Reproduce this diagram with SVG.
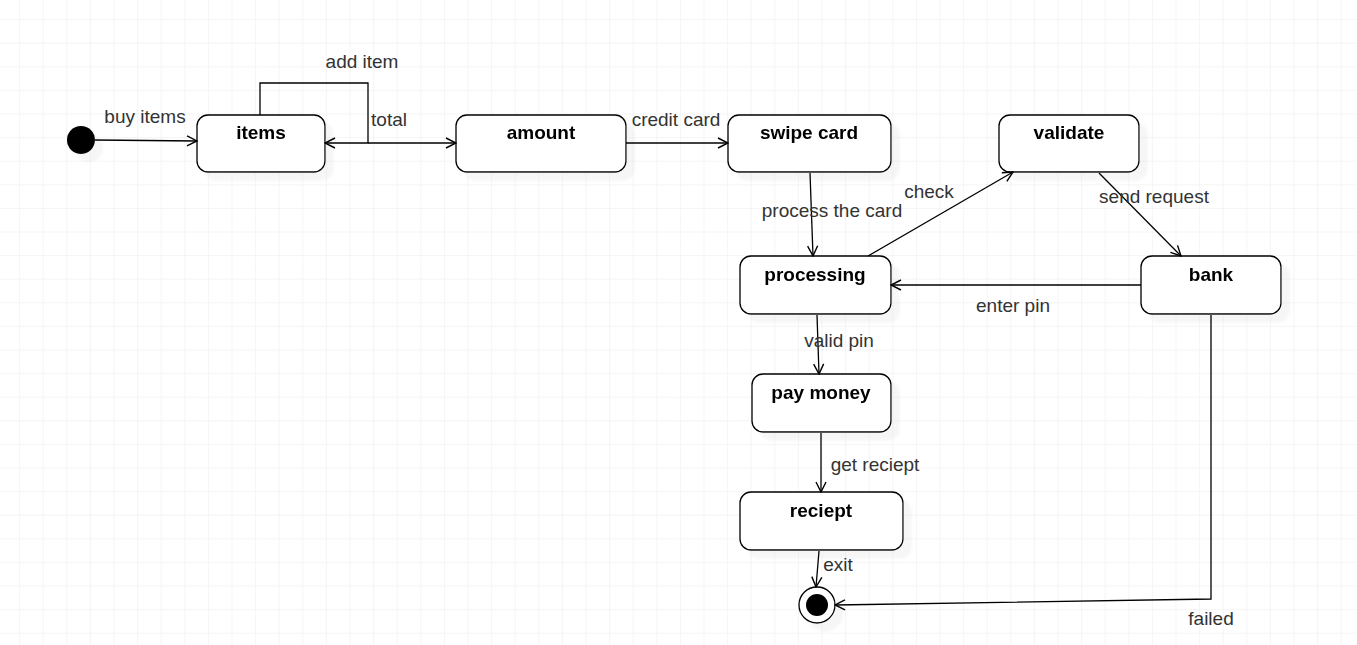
<svg xmlns="http://www.w3.org/2000/svg" width="1357" height="645" viewBox="0 0 1357 645">
<defs>
<pattern id="grid" x="-3.5" y="-3.5" width="23.6" height="23.6" patternUnits="userSpaceOnUse">
<path d="M23.6 0 V23.6 M0 23.6 H23.6" fill="none" stroke="#ebebeb" stroke-width="1"/>
</pattern>
<marker id="arr" viewBox="0 0 12 12" refX="11" refY="6" markerWidth="12" markerHeight="12" markerUnits="userSpaceOnUse" orient="auto">
<path d="M1 1 L11 6 L1 11" fill="none" stroke="#000" stroke-width="1.4"/>
</marker>
<filter id="sh" x="-20%" y="-20%" width="150%" height="150%">
<feOffset dx="8" dy="8" in="SourceAlpha" result="o"/>
<feColorMatrix in="o" type="matrix" values="0 0 0 0 0.5 0 0 0 0 0.5 0 0 0 0 0.5 0 0 0 0.12 0"/>
<feGaussianBlur stdDeviation="1"/>
<feMerge><feMergeNode/><feMergeNode in="SourceGraphic"/></feMerge>
</filter>
</defs>
<style>
.n rect{fill:#fff;stroke:#000;stroke-width:1.3}
.t{font-family:"Liberation Sans",Arial,sans-serif;font-size:19px;font-weight:bold;fill:#000;text-anchor:middle}
.l{font-family:"Liberation Sans",Arial,sans-serif;font-size:19px;fill:#333;text-anchor:middle}
.e path{fill:none;stroke:#000;stroke-width:1.3}
</style>
<rect width="1357" height="645" fill="#fff"/>
<rect width="1357" height="645" fill="url(#grid)"/>

<g id="start" filter="url(#sh)"><circle cx="81" cy="140" r="14" fill="#000"/></g>
<g id="items" class="n" filter="url(#sh)"><rect x="197" y="115" width="128" height="57" rx="11"/><text class="t" x="261" y="139">items</text></g>
<g id="amount" class="n" filter="url(#sh)"><rect x="456" y="115" width="170" height="57" rx="11"/><text class="t" x="541" y="139">amount</text></g>
<g id="swipe" class="n" filter="url(#sh)"><rect x="728" y="115" width="163" height="57" rx="11"/><text class="t" x="809" y="139">swipe card</text></g>
<g id="validate" class="n" filter="url(#sh)"><rect x="999" y="115" width="140" height="57" rx="11"/><text class="t" x="1069" y="139">validate</text></g>
<g id="processing" class="n" filter="url(#sh)"><rect x="740" y="256" width="151" height="58" rx="11"/><text class="t" x="815" y="281">processing</text></g>
<g id="bank" class="n" filter="url(#sh)"><rect x="1141" y="256" width="140" height="58" rx="11"/><text class="t" x="1211" y="281">bank</text></g>
<g id="paymoney" class="n" filter="url(#sh)"><rect x="752" y="374" width="139" height="58" rx="11"/><text class="t" x="821" y="399">pay money</text></g>
<g id="reciept" class="n" filter="url(#sh)"><rect x="740" y="492" width="163" height="58" rx="11"/><text class="t" x="821" y="517">reciept</text></g>
<g id="end" filter="url(#sh)"><circle cx="817" cy="605" r="18" fill="#fff" stroke="#000" stroke-width="1.3"/><circle cx="817" cy="605" r="11" fill="#000"/></g>

<g id="connectors" class="e">
<path d="M95 140 L197 141" marker-end="url(#arr)"/>
<path d="M260 115 V83 H368 V143 H325" marker-end="url(#arr)"/>
<path d="M368 143 H456" marker-end="url(#arr)"/>
<path d="M626 143 H728" marker-end="url(#arr)"/>
<path d="M810 173 L813 256" marker-end="url(#arr)"/>
<path d="M868 256 L1013 172" marker-end="url(#arr)"/>
<path d="M1099 173 L1181 256" marker-end="url(#arr)"/>
<path d="M1141 285 H891" marker-end="url(#arr)"/>
<path d="M817 315 L819 374" marker-end="url(#arr)"/>
<path d="M821 433 V492" marker-end="url(#arr)"/>
<path d="M819 551 L816 587" marker-end="url(#arr)"/>
<path d="M1211 315 V599 L835 605" marker-end="url(#arr)"/>
</g>
<g id="labels">
<text class="l" x="145" y="123">buy items</text>
<text class="l" x="362" y="68">add item</text>
<text class="l" x="389" y="126">total</text>
<text class="l" x="676" y="126">credit card</text>
<text class="l" x="832" y="217">process the card</text>
<text class="l" x="929" y="198">check</text>
<text class="l" x="1154" y="203">send request</text>
<text class="l" x="1013" y="312">enter pin</text>
<text class="l" x="839" y="347">valid pin</text>
<text class="l" x="875" y="471">get reciept</text>
<text class="l" x="838" y="571">exit</text>
<text class="l" x="1211" y="625">failed</text>
</g>
</svg>
